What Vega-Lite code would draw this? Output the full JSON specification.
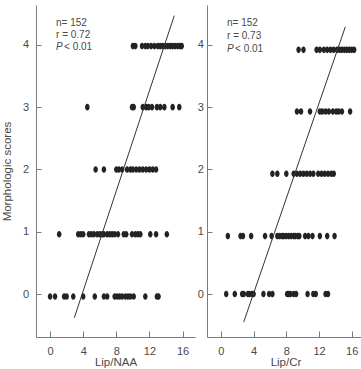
{
  "$schema": "https://vega.github.io/schema/vega-lite/v6.json",
  "padding": {"left": 1, "top": 5, "right": 0, "bottom": 0},
  "spacing": 2,
  "config": {
    "view": {"stroke": null},
    "font": "Liberation Sans",
    "axis": {
      "grid": false,
      "domainColor": "#7a7a7a",
      "tickColor": "#7a7a7a",
      "labelColor": "#4a4a4a",
      "titleColor": "#4a4a4a",
      "labelFont": "Liberation Sans",
      "titleFont": "Liberation Sans",
      "labelFontSize": 11,
      "titleFontSize": 11.5,
      "titleFontWeight": "normal",
      "tickSize": -5
    }
  },
  "datasets": {
    "naa": [
      {"x": 10.0, "s": 3.98}, {"x": 10.3, "s": 3.98}, {"x": 11.1, "s": 3.98}, {"x": 11.5, "s": 3.98}, {"x": 11.8, "s": 3.98}, {"x": 12.2, "s": 3.98}, {"x": 12.6, "s": 3.98}, {"x": 13.0, "s": 3.98}, {"x": 13.3, "s": 3.98}, {"x": 13.6, "s": 3.98}, {"x": 13.9, "s": 3.98}, {"x": 14.2, "s": 3.98}, {"x": 14.5, "s": 3.98}, {"x": 14.8, "s": 3.98}, {"x": 15.1, "s": 3.98}, {"x": 15.4, "s": 3.98}, {"x": 15.7, "s": 3.98}, {"x": 15.9, "s": 3.98},
      {"x": 4.5, "s": 3}, {"x": 9.9, "s": 3}, {"x": 10.1, "s": 3}, {"x": 11.2, "s": 3}, {"x": 11.6, "s": 3}, {"x": 11.9, "s": 3}, {"x": 12.3, "s": 3}, {"x": 12.9, "s": 3}, {"x": 13.3, "s": 3}, {"x": 13.8, "s": 3}, {"x": 14.8, "s": 3}, {"x": 15.6, "s": 3},
      {"x": 5.5, "s": 2}, {"x": 6.5, "s": 2}, {"x": 8.0, "s": 2}, {"x": 8.3, "s": 2}, {"x": 8.7, "s": 2}, {"x": 9.3, "s": 2}, {"x": 9.7, "s": 2}, {"x": 10.0, "s": 2}, {"x": 10.4, "s": 2}, {"x": 10.8, "s": 2}, {"x": 11.2, "s": 2}, {"x": 11.6, "s": 2}, {"x": 12.0, "s": 2}, {"x": 12.4, "s": 2}, {"x": 12.8, "s": 2},
      {"x": 1.1, "s": 0.96}, {"x": 3.4, "s": 0.96}, {"x": 3.7, "s": 0.96}, {"x": 4.0, "s": 0.96}, {"x": 4.7, "s": 0.96}, {"x": 5.0, "s": 0.96}, {"x": 5.3, "s": 0.96}, {"x": 5.7, "s": 0.96}, {"x": 6.0, "s": 0.96}, {"x": 6.3, "s": 0.96}, {"x": 6.5, "s": 0.96}, {"x": 6.9, "s": 0.96}, {"x": 7.2, "s": 0.96}, {"x": 7.5, "s": 0.96}, {"x": 7.8, "s": 0.96}, {"x": 8.2, "s": 0.96}, {"x": 8.9, "s": 0.96}, {"x": 9.2, "s": 0.96}, {"x": 9.9, "s": 0.96}, {"x": 10.3, "s": 0.96}, {"x": 10.6, "s": 0.96}, {"x": 10.9, "s": 0.96}, {"x": 12.1, "s": 0.96}, {"x": 12.8, "s": 0.96}, {"x": 14.1, "s": 0.96},
      {"x": 0.0, "s": -0.04}, {"x": 0.6, "s": -0.04}, {"x": 1.7, "s": -0.04}, {"x": 2.0, "s": -0.04}, {"x": 2.8, "s": -0.04}, {"x": 4.0, "s": -0.04}, {"x": 5.4, "s": -0.04}, {"x": 6.5, "s": -0.04}, {"x": 6.9, "s": -0.04}, {"x": 7.8, "s": -0.04}, {"x": 8.1, "s": -0.04}, {"x": 8.4, "s": -0.04}, {"x": 8.7, "s": -0.04}, {"x": 9.1, "s": -0.04}, {"x": 9.4, "s": -0.04}, {"x": 9.7, "s": -0.04}, {"x": 10.1, "s": -0.04}, {"x": 11.5, "s": -0.04}, {"x": 12.9, "s": -0.04}, {"x": 13.1, "s": -0.04}
    ],
    "cr": [
      {"x": 9.5, "s": 3.92}, {"x": 10.1, "s": 3.92}, {"x": 11.7, "s": 3.92}, {"x": 12.1, "s": 3.92}, {"x": 12.6, "s": 3.92}, {"x": 13.0, "s": 3.92}, {"x": 13.4, "s": 3.92}, {"x": 13.8, "s": 3.92}, {"x": 14.2, "s": 3.92}, {"x": 14.5, "s": 3.92}, {"x": 14.8, "s": 3.92}, {"x": 15.1, "s": 3.92}, {"x": 15.4, "s": 3.92}, {"x": 15.7, "s": 3.92}, {"x": 16.0, "s": 3.92}, {"x": 16.3, "s": 3.92},
      {"x": 9.3, "s": 2.93}, {"x": 9.8, "s": 2.93}, {"x": 10.9, "s": 2.93}, {"x": 12.1, "s": 2.93}, {"x": 12.4, "s": 2.93}, {"x": 12.8, "s": 2.93}, {"x": 13.2, "s": 2.93}, {"x": 13.7, "s": 2.93}, {"x": 14.1, "s": 2.93}, {"x": 14.4, "s": 2.93}, {"x": 14.8, "s": 2.93}, {"x": 15.8, "s": 2.93},
      {"x": 6.3, "s": 1.93}, {"x": 6.9, "s": 1.93}, {"x": 8.0, "s": 1.93}, {"x": 8.9, "s": 1.93}, {"x": 9.3, "s": 1.93}, {"x": 9.7, "s": 1.93}, {"x": 10.1, "s": 1.93}, {"x": 10.5, "s": 1.93}, {"x": 10.9, "s": 1.93}, {"x": 11.3, "s": 1.93}, {"x": 11.9, "s": 1.93}, {"x": 12.3, "s": 1.93}, {"x": 12.7, "s": 1.93}, {"x": 13.1, "s": 1.93}, {"x": 13.5, "s": 1.93}, {"x": 13.8, "s": 1.93},
      {"x": 0.85, "s": 0.93}, {"x": 2.4, "s": 0.93}, {"x": 2.7, "s": 0.93}, {"x": 3.7, "s": 0.93}, {"x": 5.4, "s": 0.93}, {"x": 6.2, "s": 0.93}, {"x": 6.9, "s": 0.93}, {"x": 7.2, "s": 0.93}, {"x": 7.5, "s": 0.93}, {"x": 7.7, "s": 0.93}, {"x": 8.0, "s": 0.93}, {"x": 8.3, "s": 0.93}, {"x": 8.6, "s": 0.93}, {"x": 8.9, "s": 0.93}, {"x": 9.1, "s": 0.93}, {"x": 9.4, "s": 0.93}, {"x": 9.6, "s": 0.93}, {"x": 10.3, "s": 0.93}, {"x": 10.7, "s": 0.93}, {"x": 11.2, "s": 0.93}, {"x": 12.1, "s": 0.93}, {"x": 13.0, "s": 0.93}, {"x": 13.9, "s": 0.93},
      {"x": 0.65, "s": 0}, {"x": 1.7, "s": 0}, {"x": 2.6, "s": 0}, {"x": 2.8, "s": 0}, {"x": 3.3, "s": 0}, {"x": 3.5, "s": 0}, {"x": 3.8, "s": 0}, {"x": 4.0, "s": 0}, {"x": 5.2, "s": 0}, {"x": 5.9, "s": 0}, {"x": 6.3, "s": 0}, {"x": 8.1, "s": 0}, {"x": 8.3, "s": 0}, {"x": 8.5, "s": 0}, {"x": 8.9, "s": 0}, {"x": 9.2, "s": 0}, {"x": 10.6, "s": 0}, {"x": 11.3, "s": 0}, {"x": 11.6, "s": 0}, {"x": 12.8, "s": 0}, {"x": 13.1, "s": 0}
    ],
    "naaFit": [{"x": 2.93, "s": -0.38}, {"x": 15.0, "s": 4.47}],
    "crFit": [{"x": 2.79, "s": -0.45}, {"x": 15.22, "s": 4.29}],
    "naaStats": [
      {"x": 0.72, "s": 4.354, "t": "n= 152", "rest": ""},
      {"x": 0.72, "s": 4.156, "t": "r = 0.72", "rest": ""},
      {"x": 0.72, "s": 3.968, "t": "P", "rest": "< 0.01"}
    ],
    "crStats": [
      {"x": 0.75, "s": 4.344, "t": "n= 152", "rest": ""},
      {"x": 0.75, "s": 4.14, "t": "r = 0.73", "rest": ""},
      {"x": 0.75, "s": 3.93, "t": "P", "rest": "< 0.01"}
    ]
  },
  "hconcat": [
    {
      "width": 159,
      "height": 332,
      "encoding": {
        "x": {"field": "x", "type": "quantitative",
              "scale": {"domain": [-1.7, 17.5], "nice": false, "zero": false},
              "axis": {"values": [0, 4, 8, 12, 16], "title": "Lip/NAA", "tickSize": -6, "labelPadding": 14, "titlePadding": 0}},
        "y": {"field": "s", "type": "quantitative",
              "scale": {"domain": [-0.69, 4.64], "nice": false, "zero": false},
              "axis": {"values": [0, 1, 2, 3, 4], "title": "Morphologic scores", "labelPadding": 12.5, "titlePadding": 10}}
      },
      "layer": [
        {"data": {"name": "naa"},
         "mark": {"type": "point", "filled": true, "color": "#232323", "opacity": 1, "size": 44,
                  "shape": "M0,-1A0.68,1,0,1,1,0,1A0.68,1,0,1,1,0,-1Z"}},
        {"data": {"name": "naaFit"},
         "mark": {"type": "line", "color": "#333333", "strokeWidth": 1}},
        {"data": {"name": "naaStats"},
         "transform": [{"filter": "datum.rest == ''"}],
         "mark": {"type": "text", "align": "left", "baseline": "middle", "fontSize": 10, "color": "#4a4a4a"},
         "encoding": {"text": {"field": "t"}}},
        {"data": {"name": "naaStats"},
         "transform": [{"filter": "datum.rest != ''"}],
         "mark": {"type": "text", "align": "left", "baseline": "middle", "fontSize": 10, "fontStyle": "italic", "color": "#4a4a4a"},
         "encoding": {"text": {"field": "t"}}},
        {"data": {"name": "naaStats"},
         "transform": [{"filter": "datum.rest != ''"}],
         "mark": {"type": "text", "align": "left", "baseline": "middle", "fontSize": 10, "dx": 8, "color": "#4a4a4a"},
         "encoding": {"text": {"field": "rest"}}}
      ]
    },
    {
      "width": 157,
      "height": 332,
      "encoding": {
        "x": {"field": "x", "type": "quantitative",
              "scale": {"domain": [-1.7, 17.5], "nice": false, "zero": false},
              "axis": {"values": [0, 4, 8, 12, 16], "title": "Lip/Cr", "tickSize": -6, "labelPadding": 14, "titlePadding": 0}},
        "y": {"field": "s", "type": "quantitative",
              "scale": {"domain": [-0.69, 4.64], "nice": false, "zero": false},
              "axis": {"values": [0, 1, 2, 3, 4], "title": null, "labelPadding": 8.6}}
      },
      "layer": [
        {"data": {"name": "cr"},
         "mark": {"type": "point", "filled": true, "color": "#232323", "opacity": 1, "size": 44,
                  "shape": "M0,-1A0.68,1,0,1,1,0,1A0.68,1,0,1,1,0,-1Z"}},
        {"data": {"name": "crFit"},
         "mark": {"type": "line", "color": "#333333", "strokeWidth": 1}},
        {"data": {"name": "crStats"},
         "transform": [{"filter": "datum.rest == ''"}],
         "mark": {"type": "text", "align": "left", "baseline": "middle", "fontSize": 10, "color": "#4a4a4a"},
         "encoding": {"text": {"field": "t"}}},
        {"data": {"name": "crStats"},
         "transform": [{"filter": "datum.rest != ''"}],
         "mark": {"type": "text", "align": "left", "baseline": "middle", "fontSize": 10, "fontStyle": "italic", "color": "#4a4a4a"},
         "encoding": {"text": {"field": "t"}}},
        {"data": {"name": "crStats"},
         "transform": [{"filter": "datum.rest != ''"}],
         "mark": {"type": "text", "align": "left", "baseline": "middle", "fontSize": 10, "dx": 8, "color": "#4a4a4a"},
         "encoding": {"text": {"field": "rest"}}}
      ]
    }
  ]
}
